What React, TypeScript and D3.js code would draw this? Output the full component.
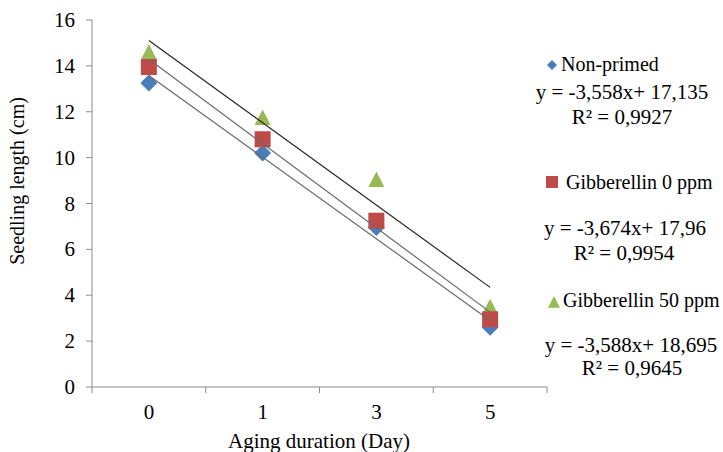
import React from "react";
import * as d3 from "d3";

const categories = ["0", "1", "3", "5"];
const seriesNames = ["Non-primed", "Gibberellin 0 ppm", "Gibberellin 50 ppm"];
const nonPrimed = [13.25, 10.2, 6.95, 2.6];
const gib0 = [13.95, 10.8, 7.25, 2.95];
const gib50 = [14.6, 11.75, 9.05, 3.5];
const slopes = [-3.558, -3.674, -3.588];
const intercepts = [17.135, 17.96, 18.695];
const equations = ["y = -3,558x+ 17,135", "y = -3,674x+ 17,96", "y = -3,588x+ 18,695"];
const rSquared = ["0,9927", "0,9954", "0,9645"];
const yTicks = [0, 2, 4, 6, 8, 10, 12, 14, 16];

const W = 723;
const H = 452;
const colors = ["#4A7EBB", "#BE4B48", "#98B954"];
const trendColors = ["#6a6a6a", "#6a6a6a", "#262626"];
const axisColor = "#8c8c8c";
const FONT = "Liberation Serif, Tinos, Times New Roman, DejaVu Serif, serif";

function marker(kind: number, cx: number, cy: number, s: number, fill: string, key?: string) {
  const h = s / 2;
  if (kind === 0) {
    return <path key={key} d={`M${cx},${cy - h}L${cx + h},${cy}L${cx},${cy + h}L${cx - h},${cy}Z`} fill={fill} />;
  }
  if (kind === 1) {
    return <rect key={key} x={cx - h} y={cy - h} width={s} height={s} fill={fill} />;
  }
  return <path key={key} d={`M${cx},${cy - h}L${cx + h},${cy + h * 0.95}L${cx - h},${cy + h * 0.95}Z`} fill={fill} />;
}

export default function App() {
  const x = d3.scaleBand<string>().domain(categories).range([92, 547]).padding(0);
  const y = d3.scaleLinear().domain([0, 16]).range([387, 20]);
  const cx = (c: string) => (x(c) as number) + x.bandwidth() / 2;
  const allData = [nonPrimed, gib0, gib50];
  const drawOrder = [0, 2, 1];
  const boundaries = [...categories.map((c) => x(c) as number), 547];

  const legendRows = [
    { mx: 552, my: 65, ms: 10, tx: 561, ty: 71, ex: 622, ey: 99, rx: 622, ry: 124 },
    { mx: 552, my: 182, ms: 12, tx: 566, ty: 189, ex: 625, ey: 235, rx: 624, ry: 260 },
    { mx: 554, my: 302, ms: 12, tx: 563, ty: 307, ex: 631, ey: 352, rx: 632, ry: 375 },
  ];

  const textStyle = { fontFamily: FONT };

  return (
    <svg width={W} height={H} style={{ position: "absolute", left: 0, top: 0, background: "#fff", fontFamily: FONT }}>
      <rect x={0} y={0} width={W} height={H} fill="#fff" />
      {/* y axis */}
      <line x1={92} y1={20} x2={92} y2={387} stroke={axisColor} strokeWidth={1} />
      {yTicks.map((t) => (
        <g key={"yt" + t}>
          <line x1={86} x2={92} y1={y(t)} y2={y(t)} stroke={axisColor} />
          <text x={75} y={y(t) + 7} fontSize={21} textAnchor="end" fill="#000" style={textStyle}>
            {t}
          </text>
        </g>
      ))}
      {/* x axis */}
      <line x1={92} y1={387} x2={547} y2={387} stroke={axisColor} />
      {boundaries.map((b, i) => (
        <line key={"xt" + i} x1={b} x2={b} y1={387} y2={393} stroke={axisColor} />
      ))}
      {categories.map((c) => (
        <text key={"xl" + c} x={cx(c)} y={419} fontSize={21} textAnchor="middle" fill="#000" style={textStyle}>
          {c}
        </text>
      ))}
      <text x={319} y={448} fontSize={21} textAnchor="middle" fill="#000" style={textStyle}>
        Aging duration (Day)
      </text>
      <text transform="translate(24,181) rotate(-90)" fontSize={20} textAnchor="middle" fill="#000" style={textStyle}>
        Seedling length (cm)
      </text>
      {/* markers */}
      {drawOrder.map((si) =>
        allData[si].map((v, i) => marker(si, cx(categories[i]), y(v), si === 0 ? 17 : 16, colors[si], `m${si}-${i}`))
      )}
      {/* trendlines */}
      {[0, 1, 2].map((si) => {
        const pts: [number, number][] = [0, 3].map((i) => [cx(categories[i]), y(slopes[si] * (i + 1) + intercepts[si])]);
        const d = d3.line()(pts) as string;
        return <path key={"tr" + si} d={d} stroke={trendColors[si]} strokeWidth={1.2} fill="none" />;
      })}
      {/* legend */}
      {legendRows.map((r, si) => (
        <g key={"lg" + si}>
          {marker(si, r.mx, r.my, r.ms, colors[si])}
          <text x={r.tx} y={r.ty} fontSize={20} fill="#000" style={textStyle}>
            {seriesNames[si]}
          </text>
          <text x={r.ex} y={r.ey} fontSize={21} textAnchor="middle" fill="#000" style={textStyle}>
            {equations[si]}
          </text>
          <text x={r.rx} y={r.ry} fontSize={21} textAnchor="middle" fill="#000" style={textStyle}>
            {"R² = " + rSquared[si]}
          </text>
        </g>
      ))}
    </svg>
  );
}
